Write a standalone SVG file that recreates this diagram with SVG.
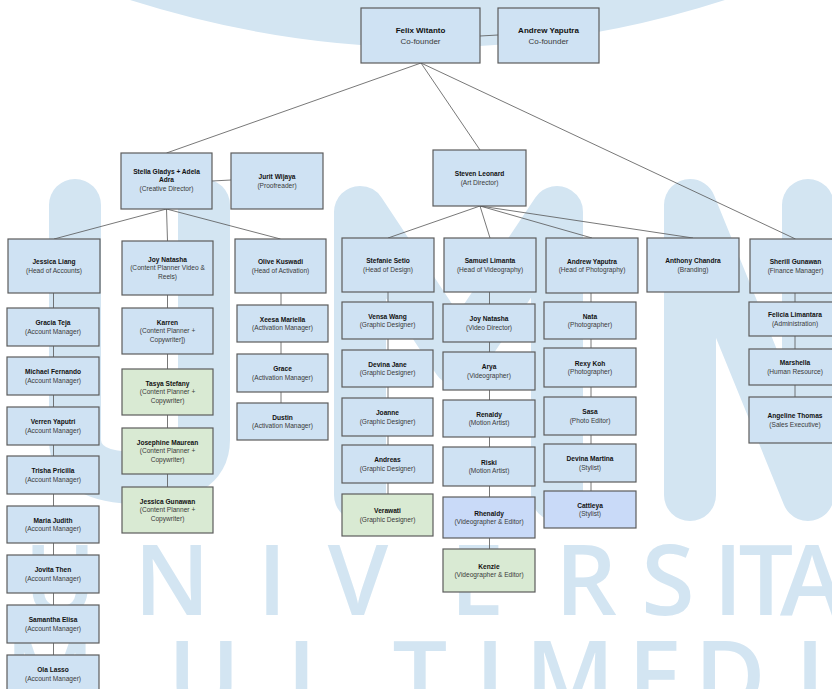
<svg xmlns="http://www.w3.org/2000/svg" width="832" height="689" viewBox="0 0 832 689">
<style>
.bx{fill:#cfe2f3;stroke:#5c5c5c;stroke-width:1.2}
.gr{fill:#d9ead3}
.pw{fill:#c9daf8}
.n{font-family:"Liberation Sans",Arial,sans-serif;font-weight:bold;font-size:6.6px;fill:#111;text-anchor:middle}
.r{font-family:"Liberation Sans",Arial,sans-serif;font-size:6.6px;fill:#3a3a3a;text-anchor:middle}
.t{font-size:8px}
.c{stroke:#555;stroke-width:0.8;fill:none}
.wm{fill:#d3e5f2}
.wms{fill:none;stroke:#d3e5f2;stroke-width:52;stroke-linecap:round;stroke-linejoin:round}
.wmt{font-family:"Open Sans","DejaVu Sans",sans-serif;font-weight:600;font-size:97px;fill:#d3e5f2;text-anchor:middle}
</style>
<rect width="832" height="689" fill="#ffffff"/>
<g id="watermark">
<path class="wm" d="M130 0 Q430 95 725 0 Z"/>
<path class="wms" d="M75 205 V440 Q75 478 140 478 Q204 478 204 440 V205"/>
<path class="wms" d="M360 495 V212 L458 360 L557 212 V495"/>
<path class="wms" d="M690 495 V205 L808 495 V205"/>
<text class="wmt" x="60" y="615">U</text>
<text class="wmt" x="172" y="615">N</text>
<text class="wmt" x="272" y="615">I</text>
<text class="wmt" x="358" y="615">V</text>
<text class="wmt" x="477" y="615">E</text>
<text class="wmt" x="586" y="615">R</text>
<text class="wmt" x="668" y="615">S</text>
<text class="wmt" x="728" y="615">I</text>
<text class="wmt" x="766" y="615">T</text>
<text class="wmt" x="812" y="615">A</text>
<text class="wmt" x="50" y="711">M</text>
<text class="wmt" x="204" y="711">U</text>
<text class="wmt" x="313" y="711">L</text>
<text class="wmt" x="420" y="711">T</text>
<text class="wmt" x="490" y="711">I</text>
<text class="wmt" x="570" y="711">M</text>
<text class="wmt" x="655" y="711">E</text>
<text class="wmt" x="730" y="711">D</text>
<text class="wmt" x="810" y="711">I</text>
</g>
<g id="connectors">
<path class="c" d="M480 36 L498 35 M212 181 L231 180"/>
<path class="c" d="M421 63 L166.5 153 M421 63 L480 150 M421 63 L795.5 239"/>
<path class="c" d="M166.5 209 L54 239 M166.5 209 L167.5 241 M166.5 209 L280.5 239"/>
<path class="c" d="M480 206 L388 238 M480 206 L490 238 M480 206 L592 238 M480 206 L693 238"/>
<path class="c" d="M53.5 293 V308 M53.5 346 V357 M53.5 395 V407 M53.5 445 V456 M53.5 494 V506 M53.5 543 V555 M53.5 593 V605 M53.5 643 V655"/>
<path class="c" d="M167.5 295 V308 M167.5 354 V369 M167.5 415 V428 M167.5 474 V487"/>
<path class="c" d="M281 293 V305 M281 342 V354 M281 392 V403"/>
<path class="c" d="M388 292 V302 M388 339 V350 M388 387 V398 M388 436 V445 M388 483 V494"/>
<path class="c" d="M489.5 292 V304 M489.5 342 V352 M489.5 390 V400 M489.5 437 V447 M489.5 486 V497 M489.5 538 V549"/>
<path class="c" d="M591 293 V302 M591 339 V348 M591 387 V397 M591 435 V444 M591 482 V491"/>
<path class="c" d="M795 293 V302 M795 336 V349 M795 385 V397"/>
</g>
<g id="felix"><rect class="bx" x="361" y="8" width="119" height="55"/><text class="n t" x="420.5" y="32.6">Felix Witanto</text><text class="r t" x="420.5" y="44.1">Co-founder</text></g>
<g id="andrew-cofounder"><rect class="bx" x="498" y="8" width="101" height="55"/><text class="n t" x="548.5" y="32.6">Andrew Yaputra</text><text class="r t" x="548.5" y="44.1">Co-founder</text></g>
<g id="stella"><rect class="bx" x="121" y="153" width="91" height="56"/><text class="n" x="166.5" y="173.5">Stella Gladys + Adela</text><text class="n" x="166.5" y="182">Adra</text><text class="r" x="166.5" y="190.5">(Creative Director)</text></g>
<g id="jurit"><rect class="bx" x="231" y="153" width="92" height="56"/><text class="n" x="277" y="179">Jurit Wijaya</text><text class="r" x="277" y="187.5">(Proofreader)</text></g>
<g id="steven"><rect class="bx" x="433" y="150" width="93" height="56"/><text class="n" x="479.5" y="176">Steven Leonard</text><text class="r" x="479.5" y="184.5">(Art Director)</text></g>
<g id="jessica-liang"><rect class="bx" x="8" y="239" width="92" height="54"/><text class="n" x="54" y="264">Jessica Liang</text><text class="r" x="54" y="272.5">(Head of Accounts)</text></g>
<g id="joy-natasha"><rect class="bx" x="122" y="241" width="91" height="54"/><text class="n" x="167.5" y="261.8">Joy Natasha</text><text class="r" x="167.5" y="270.3">(Content Planner Video &amp;</text><text class="r" x="167.5" y="278.8">Reels)</text></g>
<g id="olive"><rect class="bx" x="235" y="239" width="91" height="54"/><text class="n" x="280.5" y="264">Olive Kuswadi</text><text class="r" x="280.5" y="272.5">(Head of Activation)</text></g>
<g id="stefanie"><rect class="bx" x="342" y="238" width="92" height="54"/><text class="n" x="388" y="263">Stefanie Setio</text><text class="r" x="388" y="271.5">(Head of Design)</text></g>
<g id="samuel"><rect class="bx" x="444" y="238" width="92" height="54"/><text class="n" x="490" y="263">Samuel Limanta</text><text class="r" x="490" y="271.5">(Head of Videography)</text></g>
<g id="andrew-photo"><rect class="bx" x="546" y="238" width="92" height="55"/><text class="n" x="592" y="263.5">Andrew Yaputra</text><text class="r" x="592" y="272">(Head of Photography)</text></g>
<g id="anthony"><rect class="bx" x="647" y="238" width="92" height="54"/><text class="n" x="693" y="263">Anthony Chandra</text><text class="r" x="693" y="271.5">(Branding)</text></g>
<g id="sherill"><rect class="bx" x="750" y="239" width="91" height="54"/><text class="n" x="795.5" y="264">Sherill Gunawan</text><text class="r" x="795.5" y="272.5">(Finance Manager)</text></g>
<g id="gracia"><rect class="bx" x="7" y="308" width="92" height="38"/><text class="n" x="53" y="325">Gracia Teja</text><text class="r" x="53" y="333.5">(Account Manager)</text></g>
<g id="michael"><rect class="bx" x="7" y="357" width="92" height="38"/><text class="n" x="53" y="374">Michael Fernando</text><text class="r" x="53" y="382.5">(Account Manager)</text></g>
<g id="verren"><rect class="bx" x="7" y="407" width="92" height="38"/><text class="n" x="53" y="424">Verren Yaputri</text><text class="r" x="53" y="432.5">(Account Manager)</text></g>
<g id="trisha"><rect class="bx" x="7" y="456" width="92" height="38"/><text class="n" x="53" y="473">Trisha Pricilla</text><text class="r" x="53" y="481.5">(Account Manager)</text></g>
<g id="maria"><rect class="bx" x="7" y="506" width="92" height="37"/><text class="n" x="53" y="522.5">Maria Judith</text><text class="r" x="53" y="531">(Account Manager)</text></g>
<g id="jovita"><rect class="bx" x="7" y="555" width="92" height="38"/><text class="n" x="53" y="572">Jovita Then</text><text class="r" x="53" y="580.5">(Account Manager)</text></g>
<g id="samantha"><rect class="bx" x="7" y="605" width="92" height="38"/><text class="n" x="53" y="622">Samantha Elisa</text><text class="r" x="53" y="630.5">(Account Manager)</text></g>
<g id="ola"><rect class="bx" x="7" y="655" width="92" height="38"/><text class="n" x="53" y="672">Ola Lasso</text><text class="r" x="53" y="680.5">(Account Manager)</text></g>
<g id="karren"><rect class="bx" x="122" y="308" width="91" height="46"/><text class="n" x="167.5" y="324.8">Karren</text><text class="r" x="167.5" y="333.3">(Content Planner +</text><text class="r" x="167.5" y="341.8">Copywriter])</text></g>
<g id="tasya"><rect class="bx gr" x="122" y="369" width="91" height="46"/><text class="n" x="167.5" y="385.8">Tasya Stefany</text><text class="r" x="167.5" y="394.3">(Content Planner +</text><text class="r" x="167.5" y="402.8">Copywriter)</text></g>
<g id="josephine"><rect class="bx gr" x="122" y="428" width="91" height="46"/><text class="n" x="167.5" y="444.8">Josephine Maurean</text><text class="r" x="167.5" y="453.3">(Content Planner +</text><text class="r" x="167.5" y="461.8">Copywriter)</text></g>
<g id="jessica-gunawan"><rect class="bx gr" x="122" y="487" width="91" height="46"/><text class="n" x="167.5" y="503.8">Jessica Gunawan</text><text class="r" x="167.5" y="512.3">(Content Planner +</text><text class="r" x="167.5" y="520.8">Copywriter)</text></g>
<g id="xeesa"><rect class="bx" x="237" y="305" width="91" height="37"/><text class="n" x="282.5" y="321.5">Xeesa Mariella</text><text class="r" x="282.5" y="330">(Activation Manager)</text></g>
<g id="grace"><rect class="bx" x="237" y="354" width="91" height="38"/><text class="n" x="282.5" y="371">Grace</text><text class="r" x="282.5" y="379.5">(Activation Manager)</text></g>
<g id="dustin"><rect class="bx" x="237" y="403" width="91" height="37"/><text class="n" x="282.5" y="419.5">Dustin</text><text class="r" x="282.5" y="428">(Activation Manager)</text></g>
<g id="vensa"><rect class="bx" x="342" y="302" width="91" height="37"/><text class="n" x="387.5" y="318.5">Vensa Wang</text><text class="r" x="387.5" y="327">(Graphic Designer)</text></g>
<g id="devina-jane"><rect class="bx" x="342" y="350" width="91" height="37"/><text class="n" x="387.5" y="366.5">Devina Jane</text><text class="r" x="387.5" y="375">(Graphic Designer)</text></g>
<g id="joanne"><rect class="bx" x="342" y="398" width="91" height="38"/><text class="n" x="387.5" y="415">Joanne</text><text class="r" x="387.5" y="423.5">(Graphic Designer)</text></g>
<g id="andreas"><rect class="bx" x="342" y="445" width="91" height="38"/><text class="n" x="387.5" y="462">Andreas</text><text class="r" x="387.5" y="470.5">(Graphic Designer)</text></g>
<g id="verawati"><rect class="bx gr" x="342" y="494" width="91" height="42"/><text class="n" x="387.5" y="513">Verawati</text><text class="r" x="387.5" y="521.5">(Graphic Designer)</text></g>
<g id="joy-video"><rect class="bx" x="443" y="304" width="92" height="38"/><text class="n" x="489" y="321">Joy Natasha</text><text class="r" x="489" y="329.5">(Video Director)</text></g>
<g id="arya"><rect class="bx" x="443" y="352" width="92" height="38"/><text class="n" x="489" y="369">Arya</text><text class="r" x="489" y="377.5">(Videographer)</text></g>
<g id="renaldy"><rect class="bx" x="443" y="400" width="92" height="37"/><text class="n" x="489" y="416.5">Renaldy</text><text class="r" x="489" y="425">(Motion Artist)</text></g>
<g id="riski"><rect class="bx" x="443" y="447" width="92" height="39"/><text class="n" x="489" y="464.5">Riski</text><text class="r" x="489" y="473">(Motion Artist)</text></g>
<g id="rhenaldy"><rect class="bx pw" x="443" y="497" width="92" height="41"/><text class="n" x="489" y="515.5">Rhenaldy</text><text class="r" x="489" y="524">(Videographer &amp; Editor)</text></g>
<g id="kenzie"><rect class="bx gr" x="443" y="549" width="92" height="43"/><text class="n" x="489" y="568.5">Kenzie</text><text class="r" x="489" y="577">(Videographer &amp; Editor)</text></g>
<g id="nata"><rect class="bx" x="544" y="302" width="92" height="37"/><text class="n" x="590" y="318.5">Nata</text><text class="r" x="590" y="327">(Photographer)</text></g>
<g id="rexy"><rect class="bx" x="544" y="348" width="92" height="39"/><text class="n" x="590" y="365.5">Rexy Koh</text><text class="r" x="590" y="374">(Photographer)</text></g>
<g id="sasa"><rect class="bx" x="544" y="397" width="92" height="38"/><text class="n" x="590" y="414">Sasa</text><text class="r" x="590" y="422.5">(Photo Editor)</text></g>
<g id="devina-martina"><rect class="bx" x="544" y="444" width="92" height="38"/><text class="n" x="590" y="461">Devina Martina</text><text class="r" x="590" y="469.5">(Stylist)</text></g>
<g id="cattleya"><rect class="bx pw" x="544" y="491" width="92" height="37"/><text class="n" x="590" y="507.5">Cattleya</text><text class="r" x="590" y="516">(Stylist)</text></g>
<g id="felicia"><rect class="bx" x="749" y="302" width="92" height="34"/><text class="n" x="795" y="317">Felicia Limantara</text><text class="r" x="795" y="325.5">(Administration)</text></g>
<g id="marshella"><rect class="bx" x="749" y="349" width="92" height="36"/><text class="n" x="795" y="365">Marshella</text><text class="r" x="795" y="373.5">(Human Resource)</text></g>
<g id="angeline"><rect class="bx" x="749" y="397" width="92" height="46"/><text class="n" x="795" y="418">Angeline Thomas</text><text class="r" x="795" y="426.5">(Sales Executive)</text></g>
</svg>
